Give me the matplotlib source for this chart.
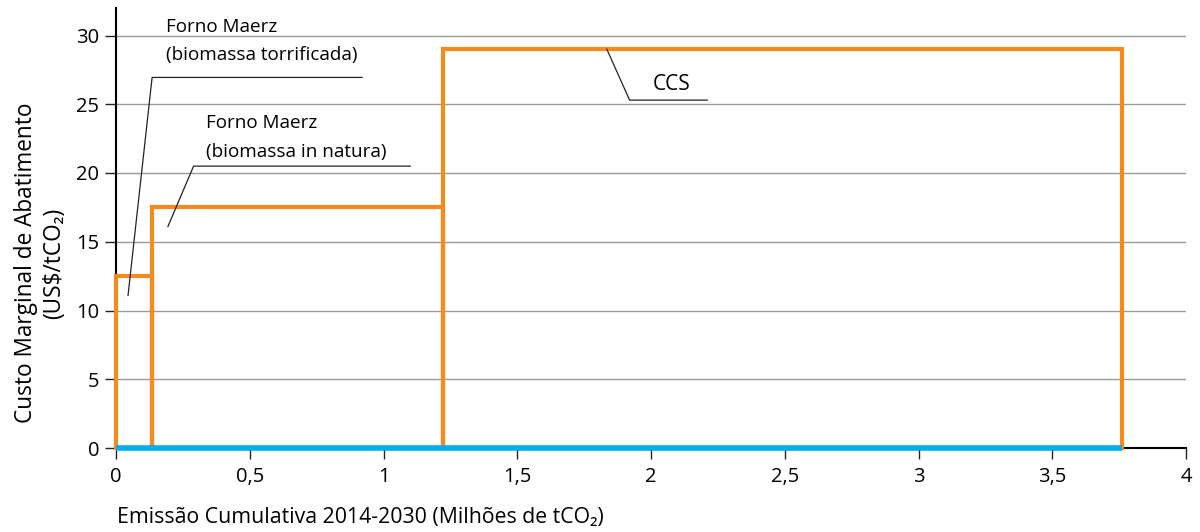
import matplotlib
matplotlib.use("Agg")
import matplotlib.pyplot as plt
import numpy as np

plt.rcParams['font.family'] = ['Open Sans', 'DejaVu Sans']

# Curva de custo marginal de abatimento
medidas = ["Forno Maerz (biomassa torrificada)", "Forno Maerz (biomassa in natura)", "CCS"]
abatimento = [0.135, 1.087, 2.539]     # milhões de tCO2
custo = [12.5, 17.5, 29.0]             # US$/tCO2

x_ticks = [0, 0.5, 1, 1.5, 2, 2.5, 3, 3.5, 4]
x_labels = ["0", "0,5", "1", "1,5", "2", "2,5", "3", "3,5", "4"]
y_ticks = [0, 5, 10, 15, 20, 25, 30]

laranja = "#F58A1F"
azul = "#00AEEF"
tinta = "#222222"

inicio = np.concatenate([[0], np.cumsum(abatimento)[:-1]])
total = sum(abatimento)

fig = plt.figure(figsize=(12, 5.32), dpi=100)
ax = fig.add_axes([116 / 1200, 1 - 448 / 532, 1070 / 1200, 440 / 532])

ax.set_xlim(0, 4)
ax.set_ylim(0, 32)

for y in y_ticks[1:]:
    ax.axhline(y, color="#9a9a9a", lw=1, zorder=1)

ax.bar(inicio, custo, width=abatimento, align="edge", fill=False,
       edgecolor=laranja, linewidth=3, zorder=3, clip_on=False)
ax.plot([0, total], [0, 0], color=azul, lw=4, zorder=4, solid_capstyle="butt", clip_on=False)

ax.spines["top"].set_visible(False)
ax.spines["right"].set_visible(False)
ax.spines["left"].set_linewidth(1.5)
ax.spines["bottom"].set_linewidth(1.5)

ax.set_xticks(x_ticks)
ax.set_xticklabels(x_labels)
ax.set_yticks(y_ticks)
ax.tick_params(axis="both", direction="out", length=8, width=1, labelsize=14.5, color=tinta)
ax.tick_params(axis="x", pad=6)
ax.tick_params(axis="y", pad=4)

# anotações (linhas de chamada + textos)
ax.plot([0.045, 0.135, 0.92], [11.1, 26.95, 26.95], color=tinta, lw=0.9, zorder=5)
ax.text(0.187, 30.25, "Forno Maerz", fontsize=13.6, va="baseline", ha="left")
ax.text(0.187, 28.2, "(biomassa torrificada)", fontsize=13.6, va="baseline", ha="left")

ax.plot([0.194, 0.29, 1.10], [16.1, 20.5, 20.5], color=tinta, lw=0.9, zorder=5)
ax.text(0.336, 23.27, "Forno Maerz", fontsize=13.6, va="baseline", ha="left")
ax.text(0.336, 21.16, "(biomassa in natura)", fontsize=13.6, va="baseline", ha="left")

ax.plot([1.835, 1.92, 2.21], [29, 25.3, 25.3], color=tinta, lw=0.9, zorder=5)
ax.text(2.078, 26.0, "CCS", fontsize=15, va="baseline", ha="center")

fig.text(40 / 1200, 1 - 263 / 532, "Custo Marginal de Abatimento\n(US$/tCO₂)", rotation=90,
         ha="center", va="center", multialignment="center", fontsize=16.3, linespacing=1.2)
fig.text(117 / 1200, 1 - 523 / 532, "Emissão Cumulativa 2014-2030 (Milhões de tCO₂)",
         ha="left", va="baseline", fontsize=15.3)

fig.savefig("out.png", dpi=100)
